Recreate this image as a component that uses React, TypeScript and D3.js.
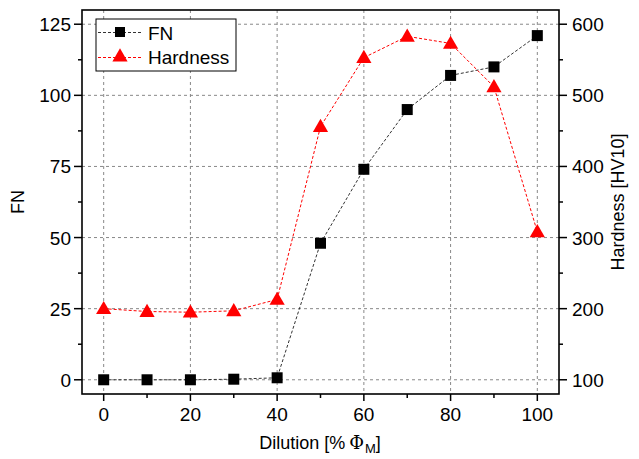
import React from "react";
import * as d3 from "d3";

const dilution = [0, 10, 20, 30, 40, 50, 60, 70, 80, 90, 100];
const fnValues = [0, 0, 0, 0.2, 0.7, 48, 74, 95, 107, 110, 121];
const hardnessValues = [200, 196, 195, 197, 213, 456, 553, 583, 573, 512, 308];
const xTicks = [0, 20, 40, 60, 80, 100];
const xMinor = [10, 30, 50, 70, 90];
const fnTicks = [0, 25, 50, 75, 100, 125];
const fnMinor = [12.5, 37.5, 62.5, 87.5, 112.5];
const hvTicks = [100, 200, 300, 400, 500, 600];
const hvMinor = [150, 250, 350, 450, 550];

const W = 639, H = 459;
const L = 82, R = 559, T = 10, B = 394;
const FONT = "'Liberation Sans', Arial, sans-serif";

export default function App() {
  const x = d3.scaleLinear().domain([-5, 105]).range([L, R]);
  const yL = d3.scaleLinear().domain([-5, 130]).range([B, T]);
  const yR = d3.scaleLinear().domain([80, 620]).range([B, T]);

  const fnLine = d3.line<number>().x((_, i) => x(dilution[i])).y((d) => yL(d))(fnValues) || "";
  const hvLine = d3.line<number>().x((_, i) => x(dilution[i])).y((d) => yR(d))(hardnessValues) || "";

  const tri = d3.symbol().type(d3.symbolTriangle).size(100)() || "";
  const S = 11;

  return (
    <svg width={W} height={H} style={{ position: "absolute", left: 0, top: 0 }} fontFamily={FONT}>
      <rect width={W} height={H} fill="white" />
      {xTicks.map((t) => (
        <line key={"gx" + t} x1={x(t)} x2={x(t)} y1={T} y2={B} stroke="#888" strokeWidth={1} strokeDasharray="3,3" />
      ))}
      {fnTicks.map((t) => (
        <line key={"gy" + t} x1={L} x2={R} y1={yL(t)} y2={yL(t)} stroke="#888" strokeWidth={1} strokeDasharray="3,3" />
      ))}
      <path d={fnLine} fill="none" stroke="#333" strokeWidth={1} strokeDasharray="3,2" />
      <path d={hvLine} fill="none" stroke="red" strokeWidth={1} strokeDasharray="3,2" />
      {hardnessValues.map((v, i) => (
        <path key={"t" + i} d={tri} transform={`translate(${x(dilution[i])},${yR(v) + 1})`} fill="red" />
      ))}
      {fnValues.map((v, i) => (
        <rect key={"s" + i} x={x(dilution[i]) - S / 2} y={yL(v) - S / 2} width={S} height={S} fill="black" />
      ))}
      <rect x={L} y={T} width={R - L} height={B - T} fill="none" stroke="black" strokeWidth={1.6} />
      {xTicks.map((t) => (
        <g key={"xt" + t}>
          <line x1={x(t)} x2={x(t)} y1={B} y2={B + 7} stroke="black" strokeWidth={1.5} />
          <text x={x(t)} y={B + 27} fontSize={19} textAnchor="middle" fill="#000">{t}</text>
        </g>
      ))}
      {xMinor.map((t) => (
        <line key={"xm" + t} x1={x(t)} x2={x(t)} y1={B} y2={B + 4} stroke="black" strokeWidth={1.5} />
      ))}
      {fnTicks.map((t) => (
        <g key={"lt" + t}>
          <line x1={L - 8} x2={L} y1={yL(t)} y2={yL(t)} stroke="black" strokeWidth={1.5} />
          <text x={L - 11} y={yL(t) + 7} fontSize={19} textAnchor="end" fill="#000">{t}</text>
        </g>
      ))}
      {fnMinor.map((t) => (
        <line key={"lm" + t} x1={L - 4} x2={L} y1={yL(t)} y2={yL(t)} stroke="black" strokeWidth={1.5} />
      ))}
      {hvTicks.map((t) => (
        <g key={"rt" + t}>
          <line x1={R} x2={R + 8} y1={yR(t)} y2={yR(t)} stroke="black" strokeWidth={1.5} />
          <text x={R + 13} y={yR(t) + 7} fontSize={19} textAnchor="start" fill="#000">{t}</text>
        </g>
      ))}
      {hvMinor.map((t) => (
        <line key={"rm" + t} x1={R} x2={R + 4} y1={yR(t)} y2={yR(t)} stroke="black" strokeWidth={1.5} />
      ))}
      <text x={320} y={449} fontSize={18} textAnchor="middle" fill="#000">
        Dilution [%
        <tspan dx={4} fontFamily="'DejaVu Serif', serif">Φ</tspan>
        <tspan fontSize={13} dy={4} dx={1}>M</tspan>
        <tspan dy={-4}>]</tspan>
      </text>
      <text transform={`translate(24,${(T + B) / 2}) rotate(-90)`} fontSize={18} textAnchor="middle" fill="#000">FN</text>
      <text transform={`translate(624,${(T + B) / 2}) rotate(-90)`} fontSize={18} textAnchor="middle" fill="#000">Hardness [HV10]</text>
      <rect x={96} y={19} width={140} height={52} fill="white" stroke="black" strokeWidth={1} />
      <line x1={98} x2={142} y1={32.5} y2={32.5} stroke="#333" strokeWidth={1} strokeDasharray="3,2" />
      <rect x={115} y={27} width={10} height={10} fill="black" />
      <text x={148} y={40} fontSize={19} fill="#000">FN</text>
      <line x1={98} x2={142} y1={57.5} y2={57.5} stroke="red" strokeWidth={1} strokeDasharray="3,2" />
      <path d={tri} transform="translate(120,57)" fill="red" />
      <text x={148} y={63.5} fontSize={19} fill="#000">Hardness</text>
    </svg>
  );
}
